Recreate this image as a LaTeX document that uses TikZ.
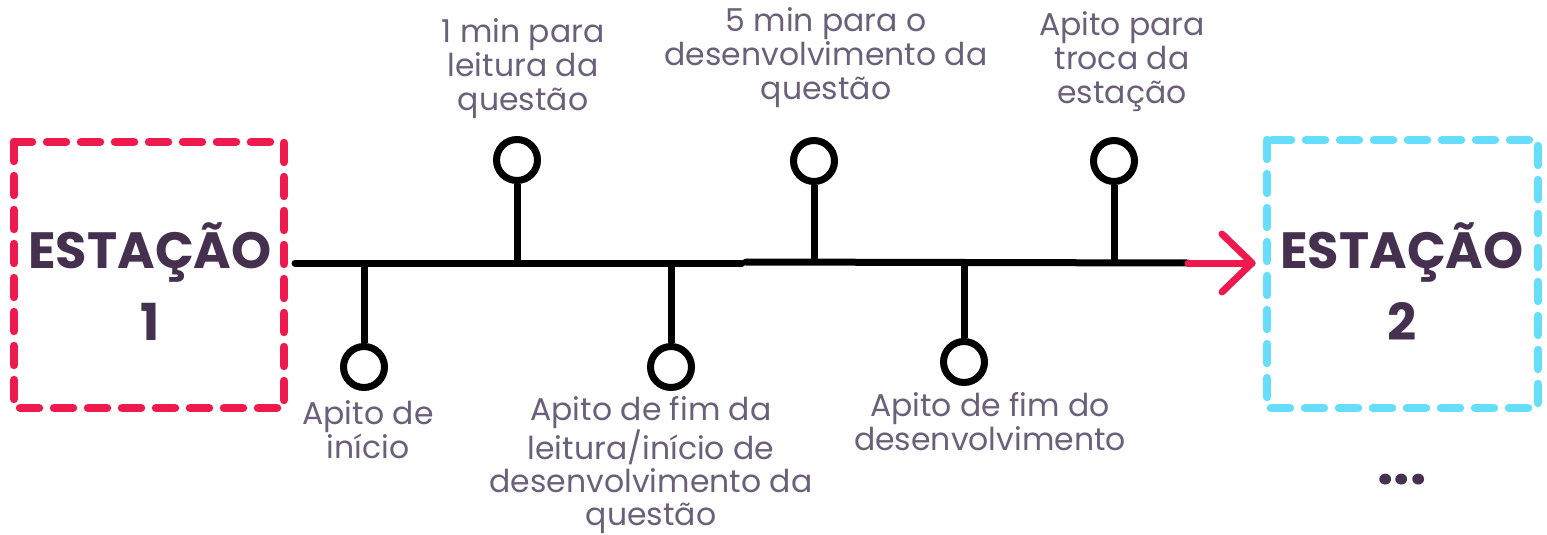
\documentclass[tikz,border=0pt]{standalone}
\usepackage{fontspec}
\setmainfont{Poppins}
\usetikzlibrary{arrows.meta}
\definecolor{redd}{HTML}{EE1A4E}
\definecolor{bluee}{HTML}{66DDFA}
\definecolor{txt}{HTML}{6B5F7A}
\definecolor{dark}{HTML}{45314F}
\tikzset{
  pin/.style={circle,draw=black,line width=7pt,minimum size=41pt,inner sep=0pt},
  stem/.style={line width=7pt,draw=black},
  axis/.style={line width=7pt,draw=black,line cap=round},
  box/.style={line width=8.5pt,dash pattern=on 19pt off 15pt,line cap=round,line join=round},
  lbl/.style={text=txt,align=center,font=\fontsize{31.5}{34}\selectfont,inner sep=0pt},
  title/.style={text=dark,align=center,font=\fontsize{51}{72}\selectfont\bfseries,inner sep=0pt}
}
\begin{document}
\begin{tikzpicture}[x=1pt,y=-1pt]
\useasboundingbox (0,0) rectangle (1547,535);
% boxes
\draw[box,draw=redd] (14,142) rectangle (284,408);
\draw[box,draw=bluee] (1267,140) rectangle (1538,408);
\node[title] (e1) at (150,282) {ESTAÇÃO\\1};
\node[title] (e2) at (1402,282) {ESTAÇÃO\\2};
% axis
\coordinate (a0) at (295,263);
\coordinate (a1) at (742,263);
\coordinate (a2) at (746,262);
\coordinate (a3) at (1188,263);
\coordinate (tip) at (1252,263);
\draw[axis] (a0) -- (a1);
\draw[axis] (a2) -- (a3);
\draw[line width=7pt,draw=redd,line cap=round,line join=round] (a3) -- (tip);
\draw[line width=7pt,draw=redd,line cap=round,line join=round] (1222,234) -- (tip) -- (1222,292);
% pins
\node[pin] (p1) at (364,367) {};
\node[pin] (p2) at (517,160) {};
\node[pin] (p3) at (671,367) {};
\node[pin] (p4) at (814,161) {};
\node[pin] (p5) at (964,362) {};
\node[pin] (p6) at (1114,161) {};
\coordinate (t1) at (364,263);
\coordinate (t2) at (517,263);
\coordinate (t3) at (671,263);
\coordinate (t4) at (814,262);
\coordinate (t5) at (964,262);
\coordinate (t6) at (1114,262);
\foreach \i in {1,...,6} {\draw[stem] (t\i) -- (p\i);}
% labels
\node[lbl,anchor=south] (l2) at (523,119) {1 min para\\leitura da\\questão};
\node[lbl,anchor=south] (l4) at (826,108) {5 min para o\\desenvolvimento da\\questão};
\node[lbl,anchor=south] (l6) at (1122,112) {Apito para\\troca da\\estação};
\node[lbl,anchor=north] (l1) at (368,400) {Apito de\\início};
\node[lbl,anchor=north,font=\fontsize{31.5}{33}\selectfont] (l3) at (651,396) {Apito de fim da\\leitura/início de\\desenvolvimento da\\questão};
\node[lbl,anchor=north] (l5) at (990,392) {Apito de fim do\\desenvolvimento};
\node[text=dark,font=\fontsize{58}{58}\selectfont\bfseries,inner sep=0pt] (dots) at (1402,480) {...};
\end{tikzpicture}
\end{document}
